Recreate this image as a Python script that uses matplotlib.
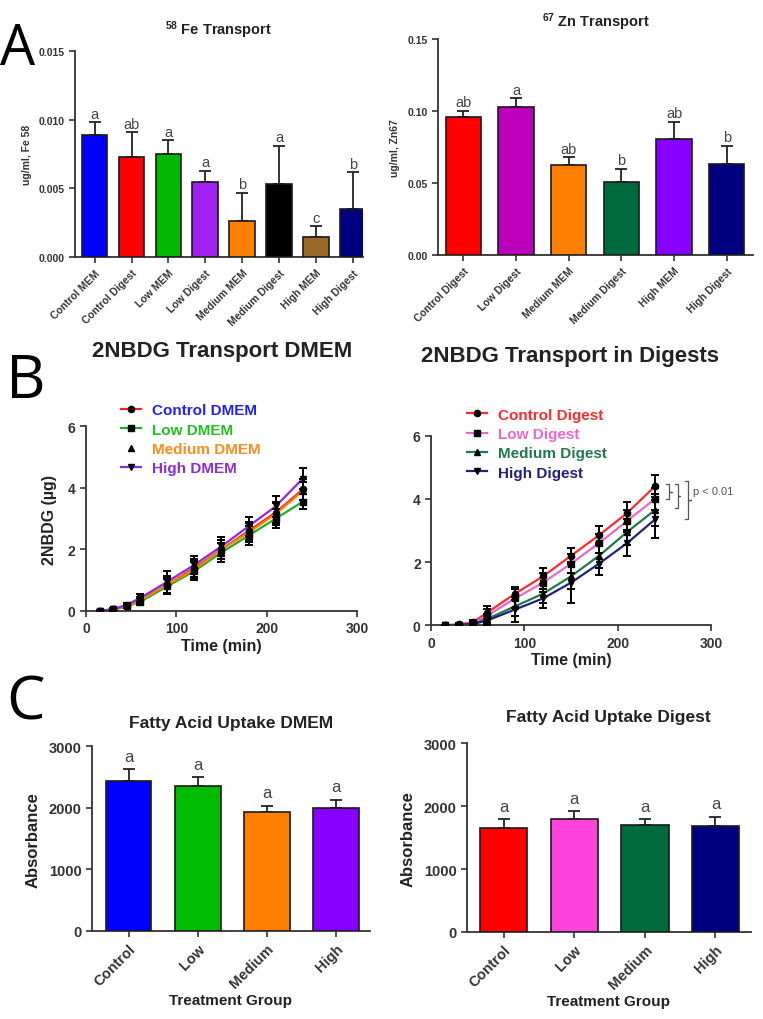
import numpy as np
import matplotlib
matplotlib.use("Agg")
import matplotlib.pyplot as plt
from matplotlib.lines import Line2D

plt.rcParams['font.family'] = ['Liberation Sans', 'DejaVu Sans']
plt.rcParams['mathtext.fontset'] = 'custom'
plt.rcParams['mathtext.bf'] = 'Liberation Sans:bold'
plt.rcParams['mathtext.rm'] = 'Liberation Sans:bold'
plt.rcParams['mathtext.default'] = 'bf'

AXC = '#333333'

# ---- Panel A: Fe transport
fe_labels = ["Control MEM", "Control Digest", "Low MEM", "Low Digest",
             "Medium MEM", "Medium Digest", "High MEM", "High Digest"]
fe_values = [0.0089, 0.0073, 0.0075, 0.0055, 0.0026, 0.0053, 0.00145, 0.0035]
fe_errors = [0.0009, 0.0018, 0.0010, 0.0008, 0.0021, 0.0028, 0.0008, 0.0027]
fe_letters = ["a", "ab", "a", "a", "b", "a", "c", "b"]
fe_colors = ["#0000ff", "#ff0000", "#00b800", "#a020f0",
             "#ff8000", "#000000", "#9c6a28", "#000080"]

# ---- Panel A: Zn transport
zn_labels = ["Control Digest", "Low Digest", "Medium MEM", "Medium Digest",
             "High MEM", "High Digest"]
zn_values = [0.0958, 0.1030, 0.0625, 0.0507, 0.0803, 0.0632]
zn_errors = [0.0044, 0.0058, 0.0053, 0.0093, 0.0121, 0.0125]
zn_letters = ["ab", "a", "ab", "b", "ab", "b"]
zn_colors = ["#ff0000", "#bb00bb", "#ff8000", "#006a3c", "#8800ff", "#000080"]

# ---- Panel B: 2NBDG transport
time_min = [15, 30, 45, 60, 90, 120, 150, 180, 210, 240]
dmem_names = ["Control DMEM", "Low DMEM", "Medium DMEM", "High DMEM"]
dmem_values = [
    [0.0, 0.05, 0.15, 0.35, 0.85, 1.40, 2.00, 2.60, 3.20, 3.95],
    [0.0, 0.05, 0.15, 0.30, 0.80, 1.30, 1.90, 2.45, 3.00, 3.55],
    [0.0, 0.05, 0.15, 0.35, 0.85, 1.35, 2.00, 2.55, 3.15, 3.90],
    [0.0, 0.06, 0.20, 0.42, 0.95, 1.50, 2.10, 2.75, 3.40, 4.30],
]
dmem_errors = [
    [0.02, 0.04, 0.06, 0.12, 0.30, 0.30, 0.30, 0.30, 0.35, 0.35],
    [0.02, 0.04, 0.06, 0.12, 0.25, 0.30, 0.30, 0.30, 0.30, 0.25],
    [0.02, 0.04, 0.06, 0.12, 0.25, 0.30, 0.30, 0.30, 0.35, 0.30],
    [0.02, 0.04, 0.06, 0.12, 0.35, 0.30, 0.30, 0.30, 0.35, 0.35],
]
dmem_line_colors = ["#ff2020", "#20b020", "#ff8000", "#8a2be2"]
dmem_text_colors = ["#2020ff", "#20c020", "#ff8c1a", "#8a2be2"]

digest_names = ["Control Digest", "Low Digest", "Medium Digest", "High Digest"]
digest_values = [
    [0.0, 0.03, 0.10, 0.40, 1.00, 1.55, 2.20, 2.85, 3.55, 4.40],
    [0.0, 0.02, 0.08, 0.30, 0.85, 1.35, 1.95, 2.60, 3.30, 4.00],
    [0.0, 0.01, 0.05, 0.20, 0.60, 1.00, 1.55, 2.20, 2.95, 3.65],
    [0.0, 0.01, 0.04, 0.15, 0.50, 0.85, 1.35, 1.95, 2.60, 3.35],
]
digest_errors = [
    [0.02, 0.04, 0.06, 0.20, 0.20, 0.25, 0.25, 0.30, 0.35, 0.35],
    [0.02, 0.04, 0.06, 0.20, 0.30, 0.30, 0.30, 0.30, 0.35, 0.35],
    [0.02, 0.04, 0.06, 0.15, 0.30, 0.30, 0.40, 0.40, 0.40, 0.50],
    [0.02, 0.04, 0.06, 0.15, 0.40, 0.30, 0.65, 0.35, 0.40, 0.60],
]
digest_colors = ["#ff2a2a", "#ee66cc", "#1e7a4a", "#202080"]

# ---- Panel C: fatty acid uptake
fa_groups = ["Control", "Low", "Medium", "High"]
fa_dmem_values = [2441, 2349, 1926, 2002]
fa_dmem_errors = [185, 146, 108, 130]
fa_dmem_colors = ["#0000ff", "#00bb00", "#ff8000", "#8800ff"]
fa_digest_values = [1653, 1801, 1706, 1685]
fa_digest_errors = [137, 116, 84, 148]
fa_digest_colors = ["#ff0000", "#ff44dd", "#006a3c", "#000080"]
fa_letters = ["a", "a", "a", "a"]


def style_axes(ax, tick_size):
    for side in ("top", "right"):
        ax.spines[side].set_visible(False)
    for side in ("left", "bottom"):
        ax.spines[side].set_color(AXC)
        ax.spines[side].set_linewidth(1.3)
    ax.tick_params(colors=AXC, width=1.2, length=4, labelsize=tick_size)
    for lab in ax.get_xticklabels() + ax.get_yticklabels():
        lab.set_fontweight("bold")


def bar_panel(ax, labels, values, errors, colors, letters, ylim, yticks,
              xlim, width, tick_size, letter_size, letter_pad):
    x = np.arange(len(values))
    ax.bar(x, values, width=width, color=colors, edgecolor="#1a1a1a",
           linewidth=1.2, zorder=3)
    ax.errorbar(x, values, yerr=[np.zeros(len(values)), errors], fmt="none",
                ecolor="#222222", elinewidth=1.3, capsize=4, capthick=1.3,
                zorder=2)
    for xi, v, e, let in zip(x, values, errors, letters):
        ax.text(xi, v + e + letter_pad, let, ha="center", va="bottom",
                fontsize=letter_size, color="#444444")
    ax.set_xlim(*xlim)
    ax.set_ylim(*ylim)
    ax.set_yticks(yticks)
    ax.set_xticks(x)
    ax.set_xticklabels(labels, rotation=45, ha="right",
                       rotation_mode="anchor")
    style_axes(ax, tick_size)


fig = plt.figure(figsize=(7.63, 10.2), dpi=100)

# Panel A left
ax1 = fig.add_axes([0.0983, 0.747, 0.3775, 0.202])
bar_panel(ax1, fe_labels, fe_values, fe_errors, fe_colors, fe_letters,
          (0, 0.015), [0.0, 0.005, 0.010, 0.015], (-0.53, 7.27), 0.7,
          7.5, 10.5, 0.0001)
ax1.set_yticklabels(["0.000", "0.005", "0.010", "0.015"])
ax1.set_ylabel("ug/ml, Fe 58", fontsize=7.5, fontweight="bold", color=AXC,
               labelpad=5)
ax1.set_title(r"$^{58}$ Fe Transport", fontsize=10.5, fontweight="bold",
              color="#222222", pad=12)

# Panel A right
ax2 = fig.add_axes([0.574, 0.749, 0.413, 0.212])
bar_panel(ax2, zn_labels, zn_values, zn_errors, zn_colors, zn_letters,
          (0, 0.15), [0.0, 0.05, 0.10, 0.15], (-0.48, 5.5), 0.67,
          7.5, 10.5, 0.001)
ax2.set_yticklabels(["0.00", "0.05", "0.10", "0.15"])
ax2.set_ylabel("ug/ml, Zn67", fontsize=7.5, fontweight="bold", color=AXC,
               labelpad=5)
ax2.set_title(r"$^{67}$ Zn Transport", fontsize=10.5, fontweight="bold",
              color="#222222", pad=9)


def line_panel(ax, names, values, errors, line_colors, text_colors,
               show_medium_line, legend_anchor):
    markers = ["o", "s", "^", "v"]
    handles = []
    for i in range(4):
        ax.plot(time_min, values[i], color=line_colors[i], lw=1.6, zorder=2)
        ax.errorbar(time_min, values[i], yerr=errors[i], fmt=markers[i],
                    color="black", ms=4.5, ecolor="black", elinewidth=1.4,
                    capsize=3, capthick=1.4, zorder=3)
        lc = line_colors[i] if (i != 2 or show_medium_line) else "none"
        handles.append(Line2D([0], [0], color=lc, lw=1.6, marker=markers[i],
                              mfc="black", mec="black", ms=4.5))
    ax.set_xlim(0, 300)
    ax.set_ylim(0, 6)
    ax.set_xticks([0, 100, 200, 300])
    ax.set_yticks([0, 2, 4, 6])
    style_axes(ax, 10)
    ax.set_xlabel("Time (min)", fontsize=11.5, fontweight="bold",
                  color="#222222", labelpad=2)
    leg = ax.legend(handles, names, loc="upper left",
                    bbox_to_anchor=legend_anchor, frameon=False,
                    handlelength=1.3, handletextpad=0.7, labelspacing=0.35,
                    prop={"weight": "bold", "size": 11})
    for t, c in zip(leg.get_texts(), text_colors):
        t.set_color(c)
    return leg


# Panel B left
ax3 = fig.add_axes([0.1127, 0.40, 0.355, 0.181])
line_panel(ax3, dmem_names, dmem_values, dmem_errors, dmem_line_colors,
           dmem_text_colors, False, (0.08, 1.20))
ax3.set_ylabel("2NBDG (µg)", fontsize=11.5, fontweight="bold",
               color="#222222", labelpad=8)
fig.text(0.291, 0.655, "2NBDG Transport DMEM", ha="center", va="center",
         fontsize=16, fontweight="bold", color="#222222")

# Panel B right
ax4 = fig.add_axes([0.565, 0.386, 0.367, 0.186])
line_panel(ax4, digest_names, digest_values, digest_errors, digest_colors,
           digest_colors, True, (0.08, 1.22))
fig.text(0.747, 0.650, "2NBDG Transport in Digests", ha="center",
         va="center", fontsize=16, fontweight="bold", color="#222222")

# p-value brackets on the digest curves
def brace(ax, x, y0, y1, w):
    ym = (y0 + y1) / 2
    ax.plot([x, x + w, x + w, x + 2 * w, x + w, x + w, x],
            [y0, y0, ym, ym, ym, y1, y1], color="#555555", lw=0.9,
            clip_on=False)


brace(ax4, 252, 4.47, 3.98, 3)
brace(ax4, 261, 4.47, 3.70, 3)
brace(ax4, 272, 4.55, 3.36, 3)
ax4.text(281, 4.25, "p < 0.01", fontsize=8, color="#555555", va="center",
         ha="left")

# Panel C left
ax5 = fig.add_axes([0.1206, 0.0863, 0.364, 0.181])
bar_panel(ax5, fa_groups, fa_dmem_values, fa_dmem_errors, fa_dmem_colors,
          fa_letters, (0, 3000), [0, 1000, 2000, 3000], (-0.53, 3.49), 0.66,
          10.5, 12, 90)
ax5.set_ylabel("Absorbance", fontsize=12, fontweight="bold",
               color="#222222", labelpad=6)
ax5.set_xlabel("Treatment Group", fontsize=11, fontweight="bold",
               color="#222222", labelpad=2)
ax5.set_title("Fatty Acid Uptake DMEM", fontsize=12.5, fontweight="bold",
              color="#222222", pad=14)

# Panel C right
ax6 = fig.add_axes([0.612, 0.0853, 0.372, 0.185])
bar_panel(ax6, fa_groups, fa_digest_values, fa_digest_errors,
          fa_digest_colors, fa_letters, (0, 3000), [0, 1000, 2000, 3000],
          (-0.52, 3.5), 0.67, 10.5, 12, 90)
ax6.set_ylabel("Absorbance", fontsize=12, fontweight="bold",
               color="#222222", labelpad=6)
ax6.set_xlabel("Treatment Group", fontsize=11, fontweight="bold",
               color="#222222", labelpad=2)
ax6.set_title("Fatty Acid Uptake Digest", fontsize=12.5, fontweight="bold",
              color="#222222", pad=16)

# panel letters
for letter, (px, py), size in zip("ABC", [(0.0, 0.978), (0.008, 0.655),
                                          (0.008, 0.340)], [40, 44, 44]):
    fig.text(px, py, letter, fontsize=size, color="black", ha="left",
             va="top", family=["Open Sans", "DejaVu Sans"])

fig.savefig("out.png", dpi=100, facecolor="white")
